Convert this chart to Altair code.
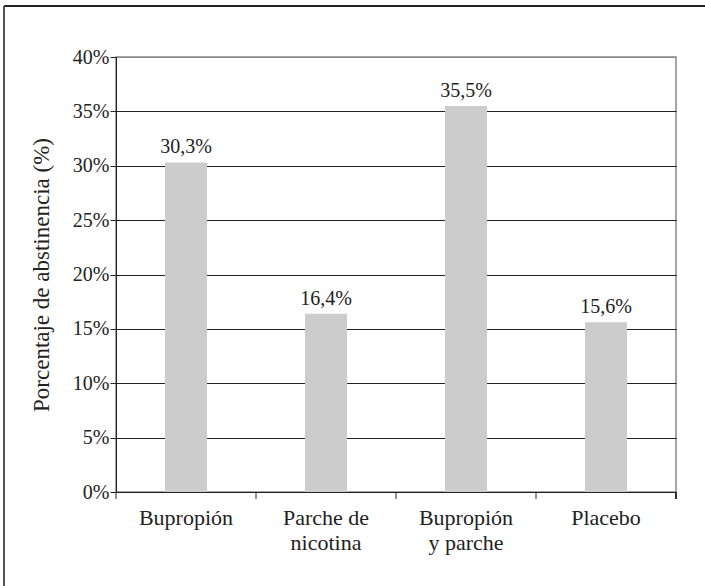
import altair as alt
import pandas as pd

# Abstinence rate by treatment group
categories = ["Bupropión", "Parche de|nicotina", "Bupropión|y parche", "Placebo"]
values = [30.3, 16.4, 35.5, 15.6]
y_ticks = [0, 5, 10, 15, 20, 25, 30, 35, 40]

df = pd.DataFrame({"grupo": categories, "pct": values})

FONT = "Liberation Serif"
INK = "#222222"
W, H = 560, 435

x_scale = alt.Scale(paddingInner=0, paddingOuter=0)

x_enc = alt.X(
    "grupo:N",
    sort=categories,
    scale=x_scale,
    axis=alt.Axis(
        title=None,
        labelAngle=0,
        labelExpr="split(datum.label, '|')",
        labelFont=FONT,
        labelFontSize=22,
        labelColor=INK,
        labelLineHeight=25,
        labelPadding=15,
        ticks=False,
        domainColor=INK,
        grid=False,
    ),
)

y_enc = alt.Y(
    "pct:Q",
    scale=alt.Scale(domain=[0, 40], nice=False),
    axis=alt.Axis(
        title="Porcentaje de abstinencia (%)",
        titleFont=FONT,
        titleFontSize=23,
        titleFontWeight="normal",
        titleColor=INK,
        titlePadding=19,
        values=y_ticks,
        labelExpr="datum.value + '%'",
        labelFont=FONT,
        labelFontSize=20,
        labelColor=INK,
        labelPadding=1,
        tickSize=6,
        tickColor=INK,
        domainColor=INK,
        grid=True,
        gridColor={"condition": {"test": "datum.value == 40", "value": "#888888"}, "value": INK},
        gridOpacity=1,
    ),
)

bars = alt.Chart(df).mark_bar(
    color="#cccccc", width=alt.RelativeBandSize(0.3)
).encode(x=x_enc, y=y_enc)

labels = alt.Chart(df).transform_calculate(
    etiqueta="replace(format(datum.pct, '.1f'), '.', ',') + '%'"
).mark_text(
    font=FONT, fontSize=20, color=INK, baseline="bottom", dy=-5
).encode(
    x=alt.X("grupo:N", sort=categories),
    y="pct:Q",
    text="etiqueta:N",
)

# Category separator ticks below the x axis (band edges)
sep_ticks = alt.Chart(df).mark_rule(color=INK).encode(
    x=alt.X("grupo:N", sort=categories, bandPosition=0),
    y=alt.value(H),
    y2=alt.value(H + 7),
)
end_tick = alt.Chart(df).mark_rule(color=INK).encode(
    x=alt.value(W), y=alt.value(H), y2=alt.value(H + 7)
)

# Outer frame around the figure
frame_top = alt.Chart(df).mark_rule(color=INK, strokeWidth=2).encode(
    x=alt.value(-112), x2=alt.value(620), y=alt.value(-51)
)
frame_left = alt.Chart(df).mark_rule(color="#555555", strokeWidth=2).encode(
    x=alt.value(-112), y=alt.value(-51), y2=alt.value(560)
)

chart = (
    alt.layer(bars, labels, sep_ticks, end_tick, frame_top, frame_left)
    .properties(
        width=W,
        height=H,
        autosize=alt.AutoSizeParams(type="none"),
        padding={"left": 116, "top": 57, "right": 29, "bottom": 94},
        background="white",
    )
    .configure_view(stroke="#888888", strokeWidth=1.5)
)

chart.save("out.html", embed_options={"renderer": "svg", "actions": False})
